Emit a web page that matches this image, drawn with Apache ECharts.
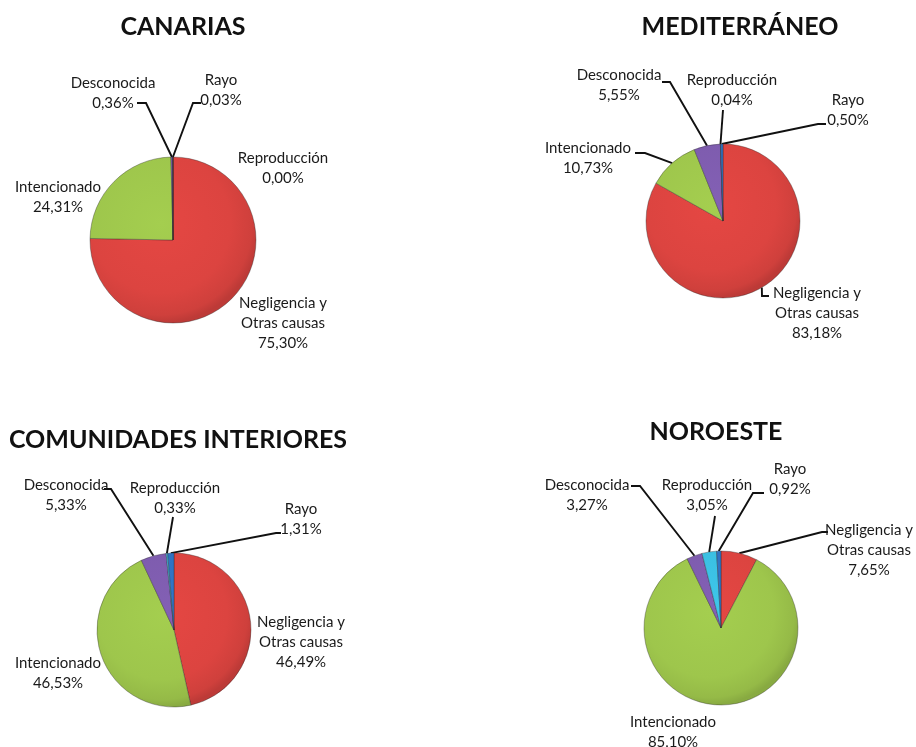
<!DOCTYPE html>
<html><head><meta charset="utf-8">
<script src="https://cdn.jsdelivr.net/npm/echarts@6/dist/echarts.min.js"></script>
<style>html,body{margin:0;padding:0;background:#fff}#c{width:916px;height:747px}</style>
</head><body><div id="c"></div>
<script>
// ---- DATA ----
const regions = ['CANARIAS', 'MEDITERRÁNEO', 'COMUNIDADES INTERIORES', 'NOROESTE'];
const categories = ['Negligencia y\nOtras causas', 'Intencionado', 'Desconocida', 'Reproducción', 'Rayo'];
const canarias     = [75.30, 24.31, 0.36, 0.00, 0.03];
const mediterraneo = [83.18, 10.73, 5.55, 0.04, 0.50];
const interiores   = [46.49, 46.53, 5.33, 0.33, 1.31];
const noroeste     = [7.65, 85.10, 3.27, 3.05, 0.92];
const seriesValues = [canarias, mediterraneo, interiores, noroeste];

// ---- LAYOUT / STYLE ----
const colors = ['#dc4440', '#9ec64c', '#7e5cae', '#3bbfe2', '#2f72c2'];
const pieGeo = [{c: [173, 240], r: 83}, {c: [723, 221], r: 77}, {c: [174, 630], r: 77}, {c: [721, 628], r: 77}];
const titlePos = [[183, 14], [740, 14], [178, 427], [716, 419]];
// label center [x, y] and extra label-line points (null = no line)
const labelPos = [
  [[283, 323, null], [58, 197, null], [113, 93, [[146, 103], [137, 103]]], [283, 168, null], [221, 90, [[193, 103], [201, 103]]]],
  [[817, 313, [[762, 296], [769, 296]]], [588, 158, [[645, 153], [635, 153]]], [619, 85, [[670, 82], [662, 82]]], [732, 90, [[723, 110]]], [848, 110, [[818, 124], [826, 124]]]],
  [[301, 642, null], [58, 673, null], [66, 495, [[111, 489], [104, 489]]], [175, 498, [[173, 517]]], [301, 519, [[276, 533], [281, 533]]]],
  [[869, 550, [[822, 532], [828, 532]]], [673, 732, null], [587, 495, [[640, 486], [631, 486]]], [707, 495, [[715, 516]]], [790, 479, [[753, 493], [764, 493]]]]
];

function shade(hex, f) {
  const n = parseInt(hex.slice(1), 16);
  let r = (n >> 16) & 255, g = (n >> 8) & 255, b = n & 255;
  r = Math.round(r * f); g = Math.round(g * f); b = Math.round(b * f);
  return 'rgb(' + Math.min(255, r) + ',' + Math.min(255, g) + ',' + Math.min(255, b) + ')';
}
function fmt(v) { return v.toFixed(2).replace('.', ',') + '%'; }

const font = 'Lato, "Open Sans", sans-serif';
const chart = echarts.init(document.getElementById('c'), null, {renderer: 'canvas'});

const title = regions.map((t, i) => ({
  text: t, left: titlePos[i][0], top: titlePos[i][1], textAlign: 'center', padding: 0,
  textStyle: {fontFamily: font, fontWeight: 'bold', fontSize: 25, color: '#111'}
}));

const series = seriesValues.map((vals, s) => {
  const g = pieGeo[s];
  return {
    type: 'pie',
    center: g.c,
    radius: g.r,
    startAngle: 90,
    clockwise: true,
    avoidLabelOverlap: false,
    animation: false,
    silent: true,
    emphasis: {disabled: true},
    label: {
      show: true, position: 'outside', fontFamily: font, fontSize: 15, lineHeight: 20, color: '#1a1a1a',
      formatter: p => p.name + '\n' + fmt(p.value)
    },
    labelLine: {show: true, length: 10, length2: 10, lineStyle: {color: '#111', width: 1.9}},
    labelLayout: p => {
      const L = labelPos[s][p.dataIndex];
      const out = {x: L[0], y: L[1], align: 'center', verticalAlign: 'middle'};
      if (L[2] && p.labelLinePoints) out.labelLinePoints = [p.labelLinePoints[0]].concat(L[2]);
      return out;
    },
    data: vals.map((v, i) => ({
      name: categories[i],
      value: v,
      labelLine: {show: !!labelPos[s][i][2]},
      itemStyle: {
        borderColor: 'rgba(40,40,40,0.45)', borderWidth: 0.8,
        color: new echarts.graphic.RadialGradient(g.c[0] - g.r * 0.15, g.c[1] - g.r * 0.2, g.r * 1.2, [
          {offset: 0, color: shade(colors[i], 1.04)},
          {offset: 0.7, color: shade(colors[i], 1.0)},
          {offset: 0.92, color: shade(colors[i], 0.94)},
          {offset: 1, color: shade(colors[i], 0.86)}
        ], true)
      }
    }))
  };
});

chart.setOption({backgroundColor: '#fff', animation: false, title, series});
</script>
</body></html>
